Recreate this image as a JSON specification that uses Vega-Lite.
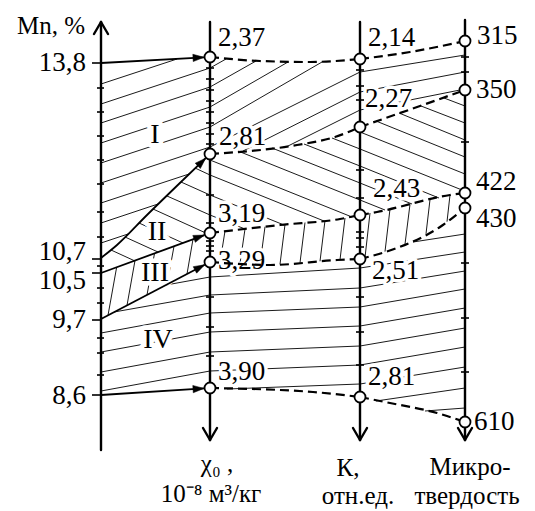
{
"$schema":"https://vega.github.io/schema/vega-lite/v6.json",
"width":535,"height":511,"autosize":{"type":"none"},"padding":0,"background":"white",
"config":{"view":{"stroke":null},"text":{"font":"Liberation Serif, Times New Roman, serif"}},
"datasets":{
"seg":[
{"k":"h","x":101,"y":84,"x2":177,"y2":59},{"k":"h","x":101,"y":104,"x2":210,"y2":68},{"k":"h","x":101,"y":123,"x2":210,"y2":87},{"k":"h","x":101,"y":143,"x2":210,"y2":107},{"k":"h","x":101,"y":163,"x2":210,"y2":127},{"k":"h","x":101,"y":183,"x2":210,"y2":147},{"k":"h","x":101,"y":203,"x2":189,"y2":174},{"k":"h","x":101,"y":223,"x2":158,"y2":204},{"k":"h","x":101,"y":243,"x2":128,"y2":234},
{"k":"h","x":210,"y":68,"x2":226,"y2":59},{"k":"h","x":210,"y":87,"x2":256,"y2":61},{"k":"h","x":210,"y":107,"x2":288,"y2":62},{"k":"h","x":210,"y":127,"x2":322,"y2":62},{"k":"h","x":210,"y":147,"x2":360,"y2":72},{"k":"h","x":243,"y":151,"x2":360,"y2":92},{"k":"h","x":288,"y":146,"x2":360,"y2":110},
{"k":"h","x":360,"y":72,"x2":465,"y2":55},{"k":"h","x":360,"y":92,"x2":465,"y2":72},{"k":"h","x":360,"y":110,"x2":460,"y2":90},
{"k":"h","x":195,"y":168,"x2":210,"y2":175},{"k":"h","x":181,"y":182,"x2":210,"y2":195},{"k":"h","x":167,"y":196,"x2":210,"y2":215},{"k":"h","x":153,"y":209,"x2":208,"y2":234},{"k":"h","x":139,"y":223,"x2":183,"y2":243},{"k":"h","x":125,"y":237,"x2":158,"y2":252},{"k":"h","x":111,"y":250,"x2":135,"y2":261},
{"k":"h","x":210,"y":160,"x2":352,"y2":217},{"k":"h","x":210,"y":175,"x2":324,"y2":221},{"k":"h","x":210,"y":195,"x2":284,"y2":225},{"k":"h","x":210,"y":215,"x2":245,"y2":229},{"k":"h","x":238,"y":151,"x2":360,"y2":200},{"k":"h","x":272,"y":148,"x2":360,"y2":183},{"k":"h","x":304,"y":144,"x2":360,"y2":166},{"k":"h","x":332,"y":138,"x2":360,"y2":149},
{"k":"h","x":360,"y":132,"x2":465,"y2":174},{"k":"h","x":376,"y":121,"x2":465,"y2":157},{"k":"h","x":399,"y":113,"x2":465,"y2":140},{"k":"h","x":421,"y":106,"x2":465,"y2":123},{"k":"h","x":444,"y":98,"x2":465,"y2":106},{"k":"h","x":360,"y":149,"x2":462,"y2":190},{"k":"h","x":360,"y":166,"x2":439,"y2":198},{"k":"h","x":360,"y":183,"x2":412,"y2":204},{"k":"h","x":360,"y":200,"x2":385,"y2":210},
{"k":"h","x":116.6,"y":267.5,"x2":108,"y2":315.3},{"k":"h","x":135,"y":260.5,"x2":127,"y2":305.4},{"k":"h","x":154.5,"y":253.4,"x2":147,"y2":294.9},{"k":"h","x":174,"y":246.3,"x2":167,"y2":284.5},{"k":"h","x":193,"y":239.2,"x2":187,"y2":274},
{"k":"h","x":225,"y":231,"x2":220,"y2":262.5},{"k":"h","x":245,"y":229,"x2":240,"y2":263.5},{"k":"h","x":265,"y":226.7,"x2":260,"y2":264.5},{"k":"h","x":285,"y":224.5,"x2":280,"y2":264.3},{"k":"h","x":305,"y":222.5,"x2":300,"y2":262.8},{"k":"h","x":325,"y":220.5,"x2":320,"y2":261.3},{"k":"h","x":345,"y":218,"x2":340,"y2":259.9},
{"k":"h","x":370,"y":213,"x2":365,"y2":257.5},{"k":"h","x":390,"y":209,"x2":385,"y2":251.6},{"k":"h","x":410,"y":204.3,"x2":405,"y2":244.1},{"k":"h","x":430,"y":199.6,"x2":426,"y2":233.8},{"k":"h","x":450,"y":195,"x2":447,"y2":221.7},
{"k":"h","x":166,"y":285,"x2":210,"y2":277},{"k":"h","x":114,"y":312,"x2":210,"y2":295},{"k":"h","x":101,"y":333,"x2":210,"y2":313},{"k":"h","x":101,"y":352,"x2":210,"y2":332},{"k":"h","x":101,"y":372,"x2":210,"y2":352},{"k":"h","x":101,"y":391,"x2":210,"y2":371},
{"k":"h","x":210,"y":277,"x2":360,"y2":268},{"k":"h","x":210,"y":295,"x2":360,"y2":288},{"k":"h","x":210,"y":313,"x2":360,"y2":307},{"k":"h","x":210,"y":332,"x2":360,"y2":326},{"k":"h","x":210,"y":352,"x2":360,"y2":346},{"k":"h","x":210,"y":371,"x2":360,"y2":365},{"k":"h","x":227,"y":389,"x2":360,"y2":384},
{"k":"h","x":413,"y":242,"x2":465,"y2":234},{"k":"h","x":360,"y":268,"x2":465,"y2":252},{"k":"h","x":360,"y":288,"x2":465,"y2":271},{"k":"h","x":360,"y":307,"x2":465,"y2":289},{"k":"h","x":360,"y":326,"x2":465,"y2":308},{"k":"h","x":360,"y":346,"x2":465,"y2":328},{"k":"h","x":360,"y":365,"x2":465,"y2":347},{"k":"h","x":360,"y":384,"x2":465,"y2":367},{"k":"h","x":376,"y":401,"x2":465,"y2":388},{"k":"h","x":425,"y":411,"x2":465,"y2":408},
{"k":"ax","x":101,"y":22,"x2":101,"y2":450},{"k":"ax","x":210,"y":22,"x2":210,"y2":440},{"k":"ax","x":360,"y":22,"x2":360,"y2":440},{"k":"ax","x":465,"y":20,"x2":465,"y2":440},
{"k":"ax","x":94,"y":34,"x2":101,"y2":22},{"k":"ax","x":108,"y":34,"x2":101,"y2":22},
{"k":"ax","x":203,"y":428,"x2":210,"y2":440},{"k":"ax","x":217,"y":428,"x2":210,"y2":440},
{"k":"ax","x":353,"y":428,"x2":360,"y2":440},{"k":"ax","x":367,"y":428,"x2":360,"y2":440},
{"k":"ax","x":458,"y":428,"x2":465,"y2":440},{"k":"ax","x":472,"y":428,"x2":465,"y2":440},
{"k":"arr","x":101,"y":63,"x2":204,"y2":57.3},{"k":"arr","x":101,"y":273,"x2":204.4,"y2":235.1},{"k":"arr","x":101,"y":319,"x2":204.7,"y2":264.8},{"k":"arr","x":101,"y":395,"x2":204,"y2":388.4},
{"k":"t","x":92,"y":63,"x2":101,"y2":63},{"k":"t","x":92,"y":259,"x2":101,"y2":259},{"k":"t","x":92,"y":273,"x2":101,"y2":273},{"k":"t","x":92,"y":320,"x2":101,"y2":320},{"k":"t","x":92,"y":395,"x2":101,"y2":395},
{"k":"t","x":97,"y":88,"x2":104,"y2":88},{"k":"t","x":97,"y":112,"x2":104,"y2":112},{"k":"t","x":97,"y":136,"x2":104,"y2":136},{"k":"t","x":97,"y":160,"x2":104,"y2":160},{"k":"t","x":97,"y":184,"x2":104,"y2":184},{"k":"t","x":97,"y":212,"x2":104,"y2":212},{"k":"t","x":97,"y":237,"x2":104,"y2":237},{"k":"t","x":97,"y":266,"x2":104,"y2":266},{"k":"t","x":97,"y":288,"x2":104,"y2":288},{"k":"t","x":97,"y":303,"x2":104,"y2":303},{"k":"t","x":97,"y":338,"x2":104,"y2":338},{"k":"t","x":97,"y":353,"x2":104,"y2":353},{"k":"t","x":97,"y":375,"x2":104,"y2":375},
{"k":"t","x":206,"y":68,"x2":214,"y2":68},{"k":"t","x":206,"y":79,"x2":214,"y2":79},{"k":"t","x":206,"y":90,"x2":214,"y2":90},{"k":"t","x":206,"y":101,"x2":214,"y2":101},{"k":"t","x":206,"y":112,"x2":214,"y2":112},{"k":"t","x":206,"y":123,"x2":214,"y2":123},{"k":"t","x":206,"y":134,"x2":214,"y2":134},{"k":"t","x":206,"y":144,"x2":214,"y2":144},{"k":"t","x":206,"y":195,"x2":214,"y2":195},{"k":"t","x":206,"y":223,"x2":214,"y2":223},{"k":"t","x":206,"y":241,"x2":214,"y2":241},{"k":"t","x":206,"y":246,"x2":214,"y2":246},{"k":"t","x":206,"y":251,"x2":214,"y2":251},{"k":"t","x":206,"y":297,"x2":214,"y2":297},{"k":"t","x":206,"y":327,"x2":214,"y2":327},{"k":"t","x":206,"y":356,"x2":214,"y2":356},
{"k":"t","x":356,"y":70,"x2":364,"y2":70},{"k":"t","x":356,"y":86,"x2":364,"y2":86},{"k":"t","x":356,"y":100,"x2":364,"y2":100},{"k":"t","x":356,"y":170,"x2":364,"y2":170},{"k":"t","x":356,"y":198,"x2":364,"y2":198},{"k":"t","x":356,"y":232,"x2":364,"y2":232},{"k":"t","x":356,"y":238,"x2":364,"y2":238},{"k":"t","x":356,"y":247,"x2":364,"y2":247},{"k":"t","x":356,"y":297,"x2":364,"y2":297},{"k":"t","x":356,"y":332,"x2":364,"y2":332},{"k":"t","x":356,"y":365,"x2":364,"y2":365},
{"k":"t","x":461,"y":57,"x2":469,"y2":57},{"k":"t","x":461,"y":72,"x2":469,"y2":72},{"k":"t","x":461,"y":142,"x2":469,"y2":142},{"k":"t","x":461,"y":263,"x2":469,"y2":263},{"k":"t","x":461,"y":318,"x2":469,"y2":318},{"k":"t","x":461,"y":372,"x2":469,"y2":372}
],
"poly":[
{"g":"c","k":"arr","o":0,"x":101,"y":258},{"g":"c","k":"arr","o":1,"x":117,"y":245},{"g":"c","k":"arr","o":2,"x":147,"y":215},{"g":"c","k":"arr","o":3,"x":183,"y":180},{"g":"c","k":"arr","o":4,"x":205.7,"y":158.2},
{"g":"d1a","k":"d","o":0,"x":210,"y":57},{"g":"d1a","k":"d","o":1,"x":260,"y":61},{"g":"d1a","k":"d","o":2,"x":310,"y":62},{"g":"d1a","k":"d","o":3,"x":360,"y":59},
{"g":"d1b","k":"d","o":0,"x":360,"y":59},{"g":"d1b","k":"d","o":1,"x":410,"y":52},{"g":"d1b","k":"d","o":2,"x":465,"y":41},
{"g":"d2a","k":"d","o":0,"x":210,"y":154},{"g":"d2a","k":"d","o":1,"x":297,"y":145},{"g":"d2a","k":"d","o":2,"x":335,"y":137},{"g":"d2a","k":"d","o":3,"x":360,"y":127},
{"g":"d2b","k":"d","o":0,"x":360,"y":127},{"g":"d2b","k":"d","o":1,"x":420,"y":106},{"g":"d2b","k":"d","o":2,"x":465,"y":90},
{"g":"d3a","k":"d","o":0,"x":210,"y":233},{"g":"d3a","k":"d","o":1,"x":280,"y":225},{"g":"d3a","k":"d","o":2,"x":340,"y":219},{"g":"d3a","k":"d","o":3,"x":360,"y":215},
{"g":"d3b","k":"d","o":0,"x":360,"y":215},{"g":"d3b","k":"d","o":1,"x":377,"y":212},{"g":"d3b","k":"d","o":2,"x":450,"y":195},{"g":"d3b","k":"d","o":3,"x":465,"y":193},
{"g":"d4a","k":"d","o":0,"x":210,"y":262},{"g":"d4a","k":"d","o":1,"x":270,"y":265},{"g":"d4a","k":"d","o":2,"x":337,"y":260},{"g":"d4a","k":"d","o":3,"x":360,"y":259},
{"g":"d4b","k":"d","o":0,"x":360,"y":259},{"g":"d4b","k":"d","o":1,"x":397,"y":248},{"g":"d4b","k":"d","o":2,"x":440,"y":227},{"g":"d4b","k":"d","o":3,"x":465,"y":208},
{"g":"d5a","k":"d","o":0,"x":210,"y":388},{"g":"d5a","k":"d","o":1,"x":313,"y":392},{"g":"d5a","k":"d","o":2,"x":360,"y":397},
{"g":"d5b","k":"d","o":0,"x":360,"y":397},{"g":"d5b","k":"d","o":1,"x":390,"y":403},{"g":"d5b","k":"d","o":2,"x":437,"y":413},{"g":"d5b","k":"d","o":3,"x":465,"y":422}
],
"pts":[
{"x":210,"y":57},{"x":210,"y":154},{"x":210,"y":233},{"x":210,"y":262},{"x":210,"y":388},
{"x":360,"y":59},{"x":360,"y":127},{"x":360,"y":215},{"x":360,"y":259},{"x":360,"y":397},
{"x":465,"y":41},{"x":465,"y":90},{"x":465,"y":193},{"x":465,"y":208},{"x":465,"y":422}
],
"heads":[
{"x":204,"y":57.3,"ang":-3.2},{"x":205.7,"y":158.2,"ang":-44},{"x":204.4,"y":235.1,"ang":-20.1},{"x":204.7,"y":264.8,"ang":-27.6},{"x":204,"y":388.4,"ang":-3.7}
],
"lab":[
{"k":"mn","t":"13,8","x":86,"y":63},{"k":"mn","t":"10,7","x":86,"y":252},{"k":"mn","t":"10,5","x":86,"y":281},{"k":"mn","t":"9,7","x":86,"y":320},{"k":"mn","t":"8,6","x":86,"y":396},
{"k":"pv","t":"2,37","x":218,"y":38},{"k":"pv","t":"2,81","x":219,"y":137},{"k":"pv","t":"3,19","x":218,"y":214},{"k":"pv","t":"3,29","x":218,"y":261},{"k":"pv","t":"3,90","x":218,"y":372},
{"k":"pv","t":"2,14","x":368,"y":38},{"k":"pv","t":"2,27","x":365,"y":99},{"k":"pv","t":"2,43","x":373,"y":189},{"k":"pv","t":"2,51","x":372,"y":271},{"k":"pv","t":"2,81","x":368,"y":377},
{"k":"pv","t":"315","x":477,"y":36},{"k":"pv","t":"350","x":476,"y":90},{"k":"pv","t":"422","x":476,"y":182},{"k":"pv","t":"430","x":476,"y":219},{"k":"pv","t":"610","x":474,"y":422},
{"k":"rg","t":"I","x":155,"y":135},{"k":"rg","t":"II","x":157,"y":232},{"k":"rg","t":"III","x":155,"y":273},{"k":"rg","t":"IV","x":158,"y":340},
{"k":"bt","t":"Mn, %","x":51,"y":26},
{"k":"bt","t":"χ₀ ,","x":217,"y":464},{"k":"bt","t":"10⁻⁸ м³/кг","x":211,"y":494},
{"k":"bt","t":"К,","x":348,"y":468},{"k":"bt","t":"отн.ед.","x":358,"y":496},
{"k":"bt","t":"Микро-","x":470,"y":467},{"k":"bt","t":"твердость","x":467,"y":496}
]
},
"encoding":{
"x":{"field":"x","type":"quantitative","scale":{"domain":[0,535],"nice":false,"zero":false},"axis":null},
"y":{"field":"y","type":"quantitative","scale":{"domain":[0,511],"reverse":true,"nice":false,"zero":false},"axis":null}
},
"layer":[
{"data":{"name":"seg"},"transform":[{"filter":"datum.k=='h'"}],"mark":{"type":"rule","color":"black","strokeWidth":0.9},
 "encoding":{"x2":{"field":"x2"},"y2":{"field":"y2"}}},
{"data":{"name":"lab"},"transform":[{"filter":"datum.k=='pv'"}],"mark":{"type":"text","align":"left","baseline":"middle","fontSize":27,"fill":"white","stroke":"white","strokeWidth":7,"strokeJoin":"round"},
 "encoding":{"text":{"field":"t"}}},
{"data":{"name":"lab"},"transform":[{"filter":"datum.k=='rg'"}],"mark":{"type":"text","align":"center","baseline":"middle","fontSize":28,"fill":"white","stroke":"white","strokeWidth":9,"strokeJoin":"round"},
 "encoding":{"text":{"field":"t"}}},
{"data":{"name":"seg"},"transform":[{"filter":"datum.k=='ax'"}],"mark":{"type":"rule","color":"black","strokeWidth":2.4,"strokeCap":"round"},
 "encoding":{"x2":{"field":"x2"},"y2":{"field":"y2"}}},
{"data":{"name":"seg"},"transform":[{"filter":"datum.k=='t'"}],"mark":{"type":"rule","color":"black","strokeWidth":1.6},
 "encoding":{"x2":{"field":"x2"},"y2":{"field":"y2"}}},
{"data":{"name":"seg"},"transform":[{"filter":"datum.k=='arr'"}],"mark":{"type":"rule","color":"black","strokeWidth":1.8},
 "encoding":{"x2":{"field":"x2"},"y2":{"field":"y2"}}},
{"data":{"name":"poly"},"transform":[{"filter":"datum.k=='arr'"}],"mark":{"type":"line","color":"black","strokeWidth":1.8,"interpolate":"monotone"},
 "encoding":{"detail":{"field":"g"},"order":{"field":"o"}}},
{"data":{"name":"poly"},"transform":[{"filter":"datum.k=='d'"}],"mark":{"type":"line","color":"black","strokeWidth":2.2,"strokeDash":[9,5],"interpolate":"monotone"},
 "encoding":{"detail":{"field":"g"},"order":{"field":"o"}}},
{"data":{"name":"pts"},"mark":{"type":"point","shape":"circle","size":121,"filled":true,"fill":"white","stroke":"black","strokeWidth":1.8,"opacity":1}},
{"data":{"name":"heads"},"mark":{"type":"point","shape":"M0,0L-2.4,-0.8L-2.4,0.8Z","size":84,"filled":true,"fill":"black","stroke":"black","strokeWidth":0.5,"opacity":1},
 "encoding":{"angle":{"field":"ang","type":"quantitative","scale":null}}},
{"data":{"name":"lab"},"transform":[{"filter":"datum.k=='pv'"}],"mark":{"type":"text","align":"left","baseline":"middle","fontSize":27,"fill":"black"},
 "encoding":{"text":{"field":"t"}}},
{"data":{"name":"lab"},"transform":[{"filter":"datum.k=='rg'"}],"mark":{"type":"text","align":"center","baseline":"middle","fontSize":28,"fill":"black"},
 "encoding":{"text":{"field":"t"}}},
{"data":{"name":"lab"},"transform":[{"filter":"datum.k=='mn'"}],"mark":{"type":"text","align":"right","baseline":"middle","fontSize":27,"fill":"black"},
 "encoding":{"text":{"field":"t"}}},
{"data":{"name":"lab"},"transform":[{"filter":"datum.k=='bt'"}],"mark":{"type":"text","align":"center","baseline":"middle","fontSize":25,"fill":"black"},
 "encoding":{"text":{"field":"t"}}}
]
}
